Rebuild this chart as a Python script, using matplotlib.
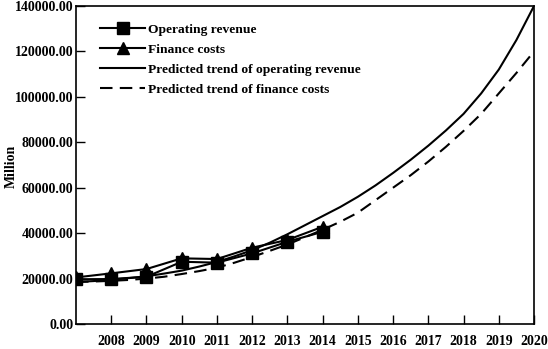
import numpy as np
import matplotlib
matplotlib.use("Agg")
import matplotlib.pyplot as plt

plt.rcParams['font.family'] = ['Liberation Serif', 'DejaVu Serif']
plt.rcParams['font.weight'] = 'bold'

years = [2007, 2008, 2009, 2010, 2011, 2012, 2013, 2014]
revenue = [19700, 19800, 20800, 27400, 27000, 31100, 36200, 40600]
finance = [20500, 22300, 24200, 28900, 28600, 33600, 37000, 42800]

trend_years = [2007, 2007.5, 2008, 2008.5, 2009, 2009.5, 2010, 2010.5, 2011,
               2011.5, 2012, 2012.5, 2013, 2013.5, 2014, 2014.5, 2015, 2015.5,
               2016, 2016.5, 2017, 2017.5, 2018, 2018.5, 2019, 2019.5, 2020]
trend_revenue = [18500, 18900, 19500, 20200, 21000, 22200, 23500, 25300, 27300,
                 29800, 32500, 35800, 39500, 43500, 47500, 51500, 56000, 61000,
                 66500, 72300, 78500, 85200, 92500, 101500, 112000, 125000, 140000]
trend_finance = [18500, 18700, 19000, 19400, 20000, 20800, 22000, 23300, 24800,
                 27000, 29500, 32200, 35000, 38200, 41500, 45000, 49000, 54500,
                 60000, 65500, 71500, 78000, 85000, 92500, 101500, 110500, 120000]

xticks = list(range(2008, 2021))
yticks = [0, 20000, 40000, 60000, 80000, 100000, 120000, 140000]

fig = plt.figure(figsize=(5.48, 3.49), dpi=100)
ax = fig.add_axes([0.1387, 0.0716, 0.8358, 0.9114])

l1, = ax.plot(years, revenue, color='k', lw=1.5, marker='s', ms=9, zorder=4)
l2, = ax.plot(years, finance, color='k', lw=1.5, marker='^', ms=9, zorder=3)
l3, = ax.plot(trend_years, trend_revenue, color='k', lw=1.5, zorder=2)
l4, = ax.plot(trend_years, trend_finance, color='k', lw=1.5, dashes=(6, 3.5), zorder=2)

ax.set_xlim(2007, 2020)
ax.set_ylim(0, 140000)
ax.set_xticks(xticks)
ax.set_xticklabels([str(y) for y in xticks], fontsize=10, fontweight='bold')
ax.set_yticks(yticks)
ax.set_yticklabels(['%.2f' % v for v in yticks], fontsize=10, fontweight='bold')
ax.tick_params(axis='x', direction='in', length=6.5, width=1, pad=8)
ax.tick_params(axis='y', direction='in', length=6.5, width=1, pad=2)
for s in ax.spines.values():
    s.set_linewidth(1.2)
ax.set_ylabel('Million', fontsize=10, fontweight='bold')
ax.yaxis.set_label_coords(-0.128, 0.497)

ax.legend([l1, l2, l3, l4],
          ['Operating revenue', 'Finance costs',
           'Predicted trend of operating revenue', 'Predicted trend of finance costs'],
          loc='upper left', frameon=False, prop={'weight': 'bold', 'size': 9.7},
          handlelength=3.3, handletextpad=0.2, labelspacing=0.55,
          bbox_to_anchor=(0.027, 0.982))

fig.savefig('out.png', dpi=100)
